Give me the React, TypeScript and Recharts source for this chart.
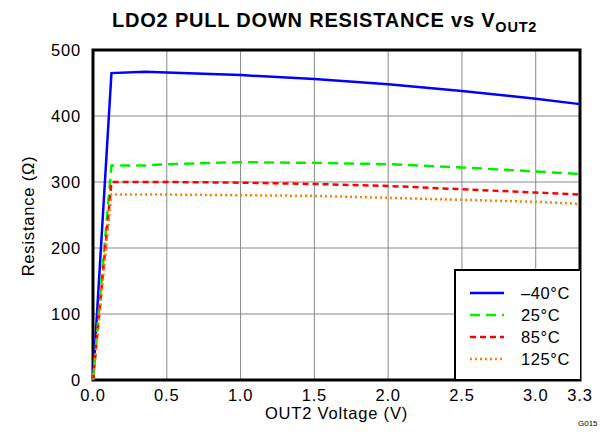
import React from 'react';
import { LineChart, Line, XAxis, YAxis, CartesianGrid, ReferenceArea } from 'recharts';

const voltage = [0, 0.125, 0.35, 0.5, 1.0, 1.5, 2.0, 2.5, 3.0, 3.3];
const minus40 = [0, 465, 467, 466, 462, 456, 448, 438, 426, 418];
const plus25 = [0, 325, 325, 327, 330, 329, 327, 322, 316, 312];
const plus85 = [0, 300, 300, 300, 299, 297, 294, 289, 284, 281];
const plus125 = [0, 281, 281, 281, 280, 279, 276, 273, 270, 267];

const xTicks = [0, 0.5, 1.0, 1.5, 2.0, 2.5, 3.0, 3.3];
const yTicks = [0, 100, 200, 300, 400, 500];

const series = [
  { key: 'm40', name: '\u201340\u00b0C', color: '#0000ff', dash: undefined },
  { key: 'p25', name: '25\u00b0C', color: '#00f000', dash: '10 6' },
  { key: 'p85', name: '85\u00b0C', color: '#ff0000', dash: '6 4' },
  { key: 'p125', name: '125\u00b0C', color: '#ff8000', dash: '2 3' },
];

const data = voltage.map((v, i) => ({
  v,
  m40: minus40[i],
  p25: plus25[i],
  p85: plus85[i],
  p125: plus125[i],
}));

const font = 'Liberation Sans, Arial, sans-serif';
const tickStyle = { fill: '#000', fontSize: 16.5, fontFamily: font, letterSpacing: 0.8 };

const LegendBox = () => (
  <div
    style={{
      position: 'absolute',
      left: 454,
      top: 269,
      width: 126,
      height: 110,
      border: '2px solid #000',
      borderRight: 'none',
      borderBottom: 'none',
      background: '#fff',
      boxSizing: 'border-box',
      padding: '11px 0 0 14px',
      fontFamily: font,
      fontSize: 16.5,
      letterSpacing: 0.6,
      color: '#000',
    }}
  >
    {series.map((s) => (
      <div key={s.key} style={{ display: 'flex', alignItems: 'center', height: 22 }}>
        <svg width={36} height={6} style={{ marginRight: 15 }}>
          <line x1={0} y1={3} x2={34} y2={3} stroke={s.color} strokeWidth={2.5} strokeDasharray={s.dash} />
        </svg>
        <span>{s.name}</span>
      </div>
    ))}
  </div>
);

export default function App() {
  return (
    <div style={{ position: 'absolute', left: 0, top: 0, width: 611, height: 435, background: '#fff', fontFamily: font }}>
      <div
        style={{
          position: 'absolute',
          left: 112,
          top: 10,
          lineHeight: '20px',
          whiteSpace: 'nowrap',
          fontWeight: 'bold',
          fontSize: 20,
          letterSpacing: 0.8,
          color: '#000',
        }}
      >
        LDO2 PULL DOWN RESISTANCE vs V
        <span style={{ fontSize: 14.5, position: 'relative', top: 5 }}>OUT2</span>
      </div>
      <div
        style={{
          position: 'absolute',
          left: 93,
          width: 487,
          top: 404,
          lineHeight: '18px',
          textAlign: 'center',
          fontSize: 16.5,
          letterSpacing: 0.8,
          color: '#000',
        }}
      >
        OUT2 Voltage (V)
      </div>
      <div
        style={{
          position: 'absolute',
          left: 28,
          top: 216,
          transform: 'translate(-50%, -50%) rotate(-90deg)',
          whiteSpace: 'nowrap',
          fontSize: 16.5,
          letterSpacing: 0.8,
          color: '#000',
        }}
      >
        Resistance (&Omega;)
      </div>
      <div style={{ position: 'absolute', left: 578, top: 419, fontSize: 8, color: '#000' }}>G015</div>
      <LineChart width={611} height={435} data={data} margin={{ top: 50, right: 31, bottom: 20, left: 35 }}>
        <CartesianGrid stroke="#888" strokeWidth={1} />
        <XAxis
          dataKey="v"
          type="number"
          domain={[0, 3.3]}
          ticks={xTicks}
          tickFormatter={(t: number) => t.toFixed(1)}
          tickLine={false}
          axisLine={false}
          height={35}
          tick={tickStyle}
          tickMargin={3}
          interval={0}
        />
        <YAxis
          type="number"
          domain={[0, 500]}
          ticks={yTicks}
          tickLine={false}
          axisLine={false}
          width={58}
          tick={tickStyle}
          tickMargin={6}
          interval={0}
        />
        {series.map((s) => (
          <Line
            key={s.key}
            dataKey={s.key}
            name={s.name}
            stroke={s.color}
            strokeWidth={2.5}
            strokeDasharray={s.dash}
            dot={false}
            type="linear"
            isAnimationActive={false}
          />
        ))}
        <ReferenceArea x1={0} x2={3.3} y1={0} y2={500} fill="none" stroke="#000" strokeWidth={3} ifOverflow="visible" />
      </LineChart>
      <LegendBox />
    </div>
  );
}
